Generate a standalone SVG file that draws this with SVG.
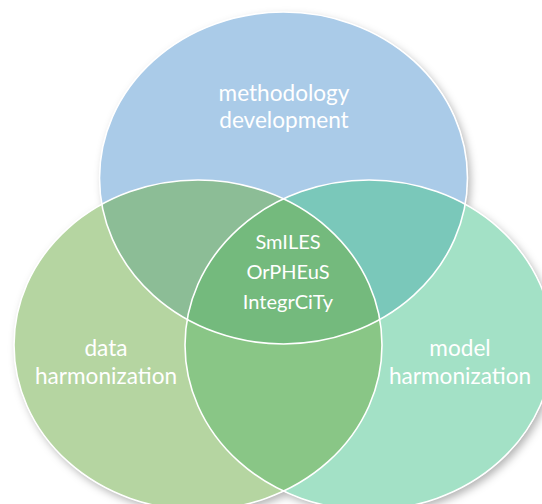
<svg xmlns="http://www.w3.org/2000/svg" width="542" height="504" viewBox="0 0 542 504">
<style>
.lbl{font-family:"Lato","Open Sans","Liberation Sans",sans-serif;font-size:22.6px;fill:#ffffff;text-anchor:middle}
.mid{font-size:20px}
.edge{fill:none;stroke:#ffffff;stroke-width:1.6}
</style>
<defs>
<ellipse id="eTop" cx="283.5" cy="178" rx="184" ry="166"/>
<ellipse id="eLeft" cx="198" cy="345" rx="184" ry="165"/>
<ellipse id="eRight" cx="369" cy="345" rx="184" ry="165"/>
<clipPath id="cTop"><use href="#eTop"/></clipPath>
<clipPath id="cLeft"><use href="#eLeft"/></clipPath>
<clipPath id="cRight"><use href="#eRight"/></clipPath>
<filter id="sh" x="-10%" y="-10%" width="130%" height="130%">
<feDropShadow dx="3" dy="4" stdDeviation="4" flood-color="#000" flood-opacity="0.3"/>
</filter>
</defs>
<rect width="542" height="504" fill="#ffffff"/>
<g filter="url(#sh)">
<use href="#eTop" fill="#ffffff"/>
<use href="#eLeft" fill="#ffffff"/>
<use href="#eRight" fill="#ffffff"/>
</g>
<g id="circle-methodology">
<use href="#eTop" fill="#AACBE8"/>
</g>
<g id="circle-data">
<use href="#eLeft" fill="#B5D5A1"/>
</g>
<g id="circle-model">
<use href="#eRight" fill="#A3E1C6"/>
</g>
<g id="overlaps">
<g clip-path="url(#cLeft)"><use href="#eTop" fill="#8CBD96"/></g>
<g clip-path="url(#cRight)"><use href="#eTop" fill="#7AC8BA"/></g>
<g clip-path="url(#cRight)"><use href="#eLeft" fill="#89C686"/></g>
<g clip-path="url(#cRight)"><g clip-path="url(#cLeft)"><use href="#eTop" fill="#74BA7D"/></g></g>
</g>
<g id="outlines">
<use href="#eTop" class="edge"/>
<use href="#eLeft" class="edge"/>
<use href="#eRight" class="edge"/>
</g>
<g id="label-methodology">
<text class="lbl" x="284" y="101">methodology</text>
<text class="lbl" x="284" y="128">development</text>
</g>
<g id="label-data">
<text class="lbl" x="106" y="356">data</text>
<text class="lbl" x="106" y="384">harmonization</text>
</g>
<g id="label-model">
<text class="lbl" x="460" y="356">model</text>
<text class="lbl" x="460" y="384">harmonization</text>
</g>
<g id="label-center">
<text class="lbl mid" x="288" y="249">SmILES</text>
<text class="lbl mid" x="288" y="279">OrPHEuS</text>
<text class="lbl mid" x="288" y="309">IntegrCiTy</text>
</g>
</svg>
